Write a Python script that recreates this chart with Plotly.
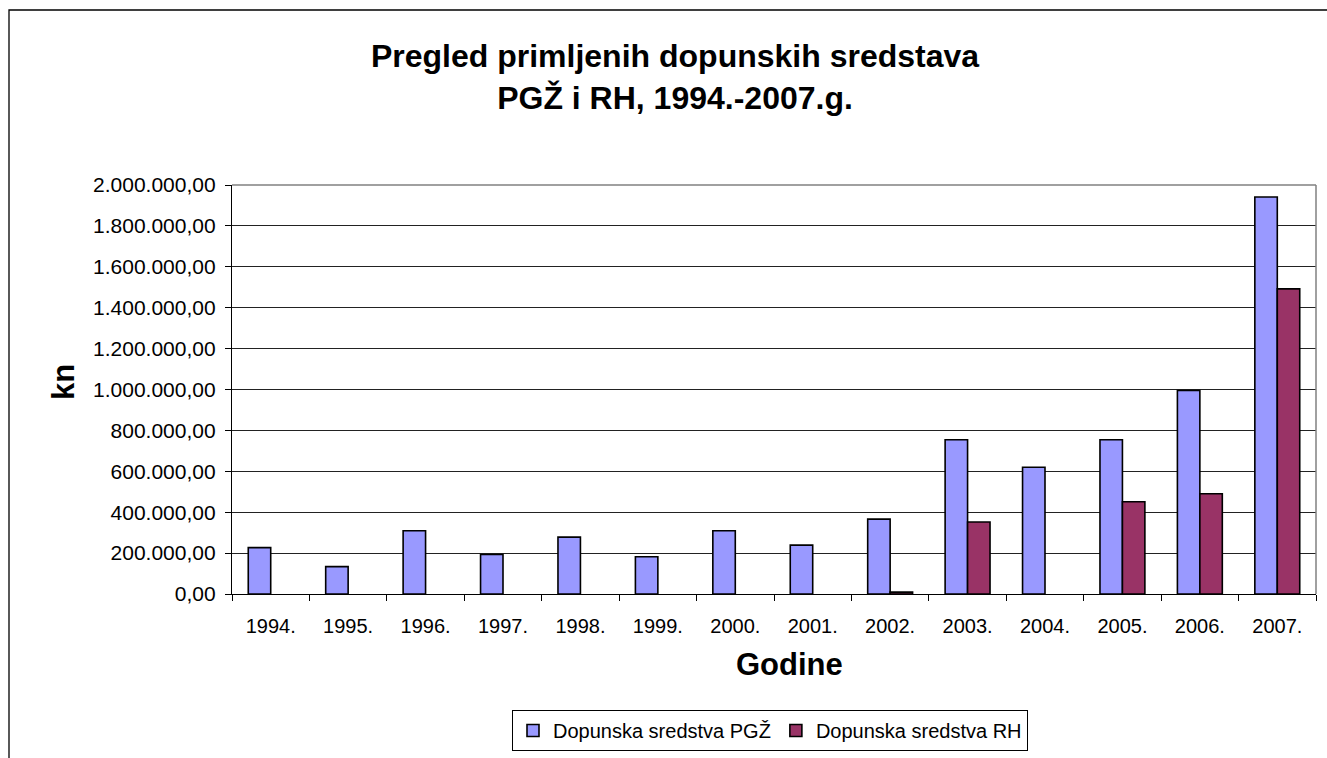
import plotly.graph_objects as go

years = ["1994.", "1995.", "1996.", "1997.", "1998.", "1999.", "2000.",
         "2001.", "2002.", "2003.", "2004.", "2005.", "2006.", "2007."]
pgz = [227000, 134000, 309000, 193000, 278000, 182000, 309000,
       239000, 366000, 754000, 620000, 754000, 995000, 1941000]
rh = [None, None, None, None, None, None, None,
      None, 9000, 352000, None, 451000, 490000, 1492000]
y_ticks = [0, 200000, 400000, 600000, 800000, 1000000, 1200000,
           1400000, 1600000, 1800000, 2000000]

FONT = "Liberation Sans, Arial, sans-serif"

fig = go.Figure()
fig.add_trace(go.Bar(x=years, y=pgz, name="Dopunska sredstva PGŽ",
                     marker=dict(color="#9999FF", line=dict(color="#000000", width=1.6))))
fig.add_trace(go.Bar(x=years, y=rh, name="Dopunska sredstva RH",
                     marker=dict(color="#993366", line=dict(color="#000000", width=1.6))))

W, H = 1327, 758
L, R, T, B = 232, 11, 185, 164
pw, ph = W - L - R, H - T - B

def px(x):
    return (x - L) / pw

def py(y):
    return (H - B - y) / ph

fig.update_layout(
    width=W, height=H,
    margin=dict(l=L, r=R, t=T, b=B, autoexpand=False),
    paper_bgcolor="white", plot_bgcolor="white",
    separators=",.",
    barmode="group", bargap=0.42, bargroupgap=0,
    font=dict(family=FONT, color="#000000", size=20),
    title=dict(text="<b>Pregled primljenih dopunskih sredstava<br>PGŽ i RH, 1994.-2007.g.</b>",
               x=675 / W, xanchor="center", y=1 - 67 / H, yanchor="middle",
               font=dict(family=FONT, size=32, color="#000000")),
    showlegend=True,
    legend=dict(orientation="h", x=px(770), xanchor="center", y=py(710), yanchor="top",
                bordercolor="#000000", borderwidth=1, bgcolor="white",
                font=dict(family=FONT, size=20), traceorder="normal"),
    xaxis=dict(type="category", showgrid=False, showline=True, linecolor="#000000", linewidth=1.3,
               ticks="outside", ticklen=6, tickcolor="#000000", tickson="boundaries",
               ticklabelstandoff=14, automargin=False,
               tickfont=dict(family=FONT, size=20), fixedrange=True),
    yaxis=dict(range=[0, 2000000], tickvals=y_ticks, tickformat=",.2f",
               showgrid=True, gridcolor="#222222", gridwidth=1,
               showline=True, linecolor="#000000", linewidth=1.3,
               ticks="outside", ticklen=6, tickcolor="#000000", ticklabelstandoff=5,
               automargin=False,
               tickfont=dict(family=FONT, size=21), zeroline=False, fixedrange=True),
    annotations=[
        dict(text="<b>Godine</b>", xref="paper", yref="paper", x=px(789), y=py(664),
             xanchor="center", yanchor="middle", showarrow=False,
             font=dict(family=FONT, size=31, color="#000000")),
        dict(text="<b>kn</b>", xref="paper", yref="paper", x=px(63), y=py(382),
             xanchor="center", yanchor="middle", showarrow=False, textangle=-90,
             font=dict(family=FONT, size=31, color="#000000")),
    ],
    shapes=[
        dict(type="rect", xref="paper", yref="paper", x0=px(9), x1=px(1340), y0=py(780), y1=py(10),
             line=dict(color="#000000", width=1.3), fillcolor="rgba(0,0,0,0)", layer="below"),
        dict(type="line", xref="paper", yref="paper", x0=0, x1=1, y0=1, y1=1,
             line=dict(color="#808080", width=1.5)),
        dict(type="line", xref="paper", yref="paper", x0=1, x1=1, y0=0, y1=1,
             line=dict(color="#808080", width=1.5)),
    ],
)

fig.write_html("out.html", config={"displayModeBar": False},
               post_script="document.body.style.margin='0';document.body.style.overflow='hidden';")
